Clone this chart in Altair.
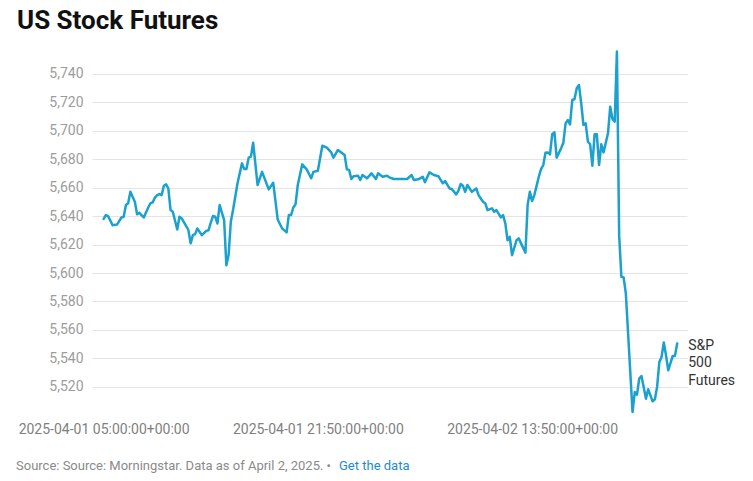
import altair as alt
import pandas as pd

# ---- data (10-minute bars, index from 2025-04-01 05:00 UTC) ----
steps = [0, 1, 2, 4, 6, 8, 9, 10, 11, 12, 14, 15, 16, 17, 18, 20, 21, 22, 23, 24,
         25, 26, 27, 28, 29, 30, 31, 33, 34, 35, 37, 38, 39, 40, 41, 42, 44, 46, 47, 48,
         49, 50, 51, 52, 54, 55, 56, 57, 58, 60, 62, 63, 64, 65, 66, 67, 69, 71, 74, 76,
         78, 80, 82, 83, 84, 85, 86, 87, 89, 91, 93, 94, 96, 98, 100, 102, 103, 105, 108, 109,
         110, 111, 112, 114, 115, 116, 118, 120, 122, 123, 125, 127, 128, 130, 133, 136, 138, 139, 141, 143,
         144, 146, 148, 150, 152, 153, 155, 156, 158, 159, 160, 161, 162, 163, 165, 167, 168, 170, 171, 172,
         174, 175, 176, 178, 179, 180, 181, 182, 183, 185, 186, 189, 190, 191, 192, 193, 195, 196, 197, 198,
         199, 200, 201, 202, 203, 205, 206, 207, 208, 209, 210, 211, 212, 213, 214, 215, 216, 217, 218, 219,
         220, 221, 222, 223, 224, 226, 227, 228, 229, 230, 231, 232, 233, 234, 237, 238, 239, 240, 241, 243,
         244, 246, 247, 248, 249, 250, 251, 252, 253, 255, 256, 257]
values = [5638.0, 5640.7, 5640.0, 5633.6, 5634.0, 5639.0, 5639.5, 5647.7, 5649.0, 5657.0,
          5650.0, 5641.2, 5642.3, 5640.7, 5639.0, 5646.0, 5649.0, 5649.6, 5653.0, 5654.7,
          5655.4, 5654.7, 5661.3, 5662.2, 5659.4, 5644.2, 5643.0, 5630.6, 5639.5, 5638.3,
          5633.0, 5630.0, 5620.8, 5626.6, 5627.3, 5631.3, 5626.6, 5629.6, 5630.0, 5635.3,
          5640.0, 5639.5, 5634.8, 5647.7, 5637.2, 5605.5, 5612.5, 5636.0, 5644.2, 5663.0,
          5677.0, 5673.0, 5673.0, 5681.0, 5681.7, 5691.5, 5661.8, 5671.0, 5658.7, 5663.4,
          5637.6, 5631.3, 5628.5, 5640.7, 5640.7, 5646.0, 5648.2, 5661.8, 5676.3, 5672.8,
          5666.5, 5671.0, 5671.8, 5689.4, 5688.0, 5684.7, 5681.0, 5686.4, 5682.8, 5672.8,
          5672.4, 5666.0, 5668.0, 5668.3, 5665.3, 5668.8, 5666.5, 5670.0, 5666.0, 5670.0,
          5667.6, 5668.3, 5667.2, 5666.0, 5666.0, 5666.0, 5668.8, 5665.3, 5665.8, 5667.6,
          5663.7, 5670.7, 5668.8, 5668.0, 5663.0, 5664.6, 5659.4, 5659.0, 5655.2, 5657.8,
          5662.5, 5661.3, 5657.0, 5661.8, 5657.0, 5659.4, 5654.7, 5650.0, 5649.0, 5644.2,
          5645.4, 5643.0, 5644.2, 5639.0, 5640.7, 5634.8, 5623.0, 5625.4, 5612.5, 5623.0,
          5624.3, 5614.3, 5648.0, 5657.0, 5650.5, 5654.7, 5667.6, 5673.0, 5675.8, 5684.5,
          5684.7, 5683.3, 5697.4, 5698.8, 5681.0, 5687.6, 5691.5, 5705.1, 5707.4, 5704.4,
          5721.5, 5722.2, 5729.7, 5732.0, 5719.2, 5704.0, 5705.1, 5692.2, 5690.4, 5675.3,
          5697.4, 5697.4, 5675.8, 5690.4, 5684.7, 5698.1, 5716.8, 5708.2, 5706.3, 5755.5,
          5626.6, 5597.3, 5596.9, 5585.6, 5502.4, 5516.4, 5514.6, 5525.9, 5527.7, 5511.8,
          5518.4, 5509.9, 5511.3, 5520.0, 5537.5, 5541.1, 5551.2, 5542.2, 5531.7, 5541.8,
          5541.8, 5550.5]

x_tick_steps = [0, 96, 192]
x_tick_labels = ["2025-04-01 05:00:00+00:00",
                 "2025-04-01 21:50:00+00:00",
                 "2025-04-02 13:50:00+00:00"]
y_ticks = [5520, 5540, 5560, 5580, 5600, 5620, 5640, 5660, 5680, 5700, 5720, 5740]

title_text = "US Stock Futures"
series_label = "S&P\n500\nFutures"
source_text = "Source: Source: Morningstar. Data as of April 2, 2025. \u2022"
link_text = "Get the data"

LINE_COLOR = "#1ba1cd"
FONT = "Roboto"

df = pd.DataFrame({"step": steps, "value": values})
last = df.tail(1).assign(label=series_label)

label_expr = " : ".join(
    f"datum.value == {s} ? '{t}'" for s, t in zip(x_tick_steps, x_tick_labels)
) + " : ''"

x_enc = alt.X(
    "step:Q",
    scale=alt.Scale(domain=[-5.2, 261.4], nice=False, zero=False),
    axis=alt.Axis(values=x_tick_steps, labelExpr=label_expr, title=None, grid=False,
                  domain=False, ticks=False, labelPadding=10, labelFontSize=14,
                  labelColor="#7f7f7f", labelFont=FONT, labelFlush=False,
                  labelOverlap=False),
)
y_enc = alt.Y(
    "value:Q",
    scale=alt.Scale(domain=[5502.4, 5756.6], nice=False, zero=False),
    axis=alt.Axis(values=y_ticks, format=",d", title=None, domain=False, ticks=False,
                  grid=True, gridColor="#e4e4e4", gridWidth=1, labelPadding=9,
                  labelFontSize=14, labelColor="#9c9c9c", labelFont=FONT,
                  labelOverlap=False, labelFlush=False, tickCount=12),
)

line = alt.Chart(df).mark_line(
    color=LINE_COLOR, strokeWidth=2.5, strokeJoin="round", strokeCap="round"
).encode(x=x_enc, y=y_enc)

end_label = alt.Chart(last).mark_text(
    align="left", baseline="alphabetic", dx=11, dy=6, lineBreak="\n",
    lineHeight=17.5, fontSize=14, font=FONT, color="#333333"
).encode(x=x_enc, y=y_enc, text="label:N")

title = alt.Chart(pd.DataFrame({"t": [title_text]})).mark_text(
    align="left", baseline="alphabetic", fontSize=26, fontWeight="bold", font=FONT,
    color="#111111"
).encode(x=alt.value(-75), y=alt.value(-21), text="t:N")

source = alt.Chart(pd.DataFrame({"t": [source_text]})).mark_text(
    align="left", baseline="alphabetic", fontSize=13, font=FONT, color="#8a8a8a"
).encode(x=alt.value(-76), y=alt.value(420), text="t:N")

link = alt.Chart(pd.DataFrame({"t": [link_text]})).mark_text(
    align="left", baseline="alphabetic", fontSize=13, font=FONT, color="#1d8bd0"
).encode(x=alt.value(247), y=alt.value(420), text="t:N")

chart = alt.layer(line, end_label, title, source, link).properties(
    width=595,
    height=362,
    padding={"left": 84, "top": 42, "right": 58, "bottom": 61},
    autosize=alt.AutoSizeParams(type="none"),
).configure(font=FONT).configure_view(stroke=None)

chart.save("out.html", embed_options={"renderer": "svg", "actions": False})
